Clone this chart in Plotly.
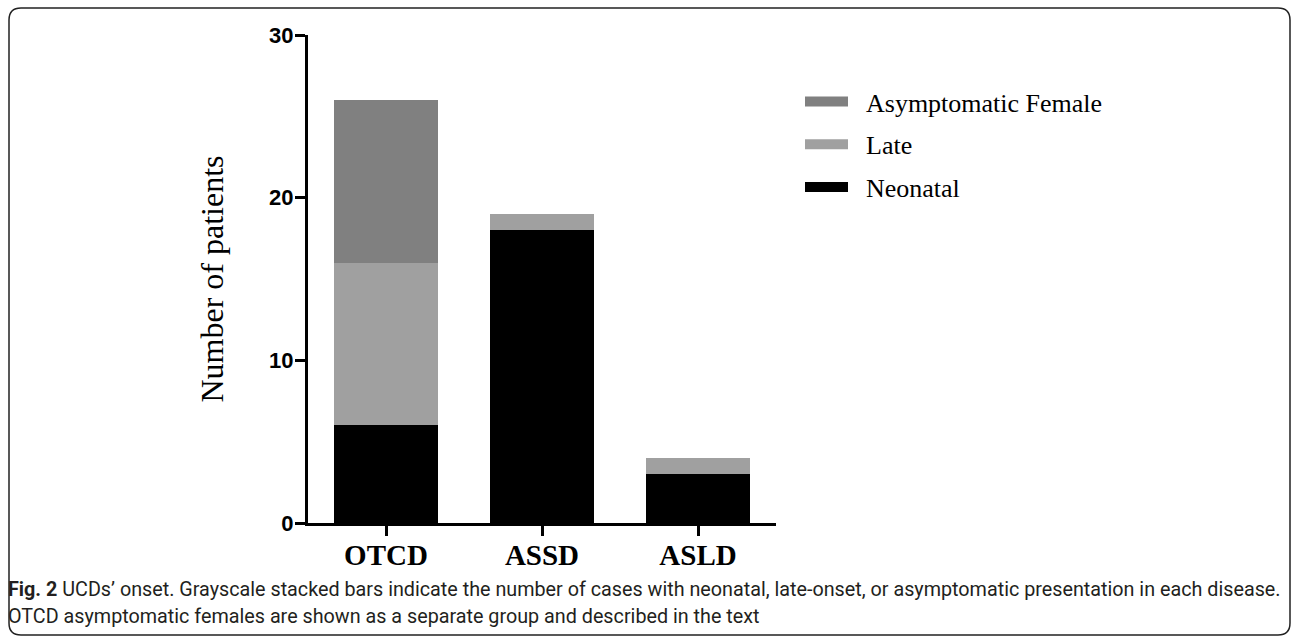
import plotly.graph_objects as go

categories = ["OTCD", "ASSD", "ASLD"]
neonatal = [6, 18, 3]
late = [10, 1, 1]
asymptomatic_female = [10, 0, 0]
y_ticks = [0, 10, 20, 30]

series = [
    ("Neonatal", neonatal, "#000000"),
    ("Late", late, "#a0a0a0"),
    ("Asymptomatic Female", asymptomatic_female, "#808080"),
]

# pixel geometry helpers
L, R, T, B = 308, 776, 35, 523
W, H = 1292, 637
def px(x):
    return (x - L) / (R - L)
def py(y):
    return (B - y) / (B - T)

fig = go.Figure()
for name, vals, col in series:
    fig.add_trace(go.Bar(x=categories, y=vals, name=name, marker=dict(color=col, line=dict(width=0)),
                         showlegend=False))

# legend entries (wide rectangles)
for i, (name, vals, col) in enumerate(reversed(series)):
    fig.add_trace(go.Scatter(x=[categories[0]], y=[None], mode="lines", name="\u00a0\u00a0" + name,
                             line=dict(color=col, width=14), legendgroup=f"g{i}", showlegend=True))

fig.update_layout(
    width=W, height=H,
    margin=dict(l=L, r=W - R, t=T, b=H - B, autoexpand=False),
    paper_bgcolor="white", plot_bgcolor="white",
    barmode="stack", bargap=0.333,
    showlegend=True,
    legend=dict(x=px(800), y=py(78), xanchor="left", yanchor="top",
                font=dict(family="Liberation Serif", size=26, color="#000"),
                itemwidth=43,
                traceorder="grouped", tracegroupgap=6, bgcolor="rgba(0,0,0,0)"),
    xaxis=dict(range=[-0.5, 2.5], showline=True, linewidth=3, linecolor="#000",
               ticks="outside", ticklen=10, tickwidth=3, tickcolor="#000",
               ticklabelstandoff=-6,
               tickfont=dict(family="Liberation Serif", size=29, color="#000", weight="bold"),
               showgrid=False, zeroline=False, fixedrange=True),
    yaxis=dict(range=[0, 30], tickvals=y_ticks, showline=True, linewidth=3, linecolor="#000",
               ticks="outside", ticklen=10, tickwidth=3, tickcolor="#000",
               ticklabelstandoff=-3,
               tickfont=dict(family="Liberation Sans", size=22, color="#000", weight="bold"),
               title=dict(text="Number of patients", standoff=36,
                          font=dict(family="Liberation Serif", size=32, color="#000")),
               showgrid=False, zeroline=False, fixedrange=True),
)

# rounded border
x0, x1, y0, y1 = px(9), px(1290), py(8), py(635)
rx, ry = 12 / (R - L), 12 / (B - T)
path = (f"M{x0+rx},{y0} L{x1-rx},{y0} Q{x1},{y0} {x1},{y0-ry} "
        f"L{x1},{y1+ry} Q{x1},{y1} {x1-rx},{y1} L{x0+rx},{y1} Q{x0},{y1} {x0},{y1+ry} "
        f"L{x0},{y0-ry} Q{x0},{y0} {x0+rx},{y0} Z")
fig.add_shape(type="path", path=path, xref="paper", yref="paper",
              line=dict(color="#222", width=1.5), fillcolor="rgba(0,0,0,0)", layer="below")

caption1 = ("<b>Fig. 2</b> UCDs\u2019 onset. Grayscale stacked bars indicate the number of cases with neonatal, "
            "late-onset, or asymptomatic presentation in each disease.")
caption2 = "OTCD asymptomatic females are shown as a separate group and described in the text"
for txt, yy in [(caption1, 589), (caption2, 616)]:
    fig.add_annotation(text=txt, xref="paper", yref="paper", x=px(6), y=py(yy),
                       xanchor="left", yanchor="middle", showarrow=False,
                       font=dict(family="Roboto", size=19.75, color="#231f20"))

fig.write_html("out.html", config={"displayModeBar": False},
               post_script="document.body.style.margin='0';document.body.style.overflow='hidden';")
